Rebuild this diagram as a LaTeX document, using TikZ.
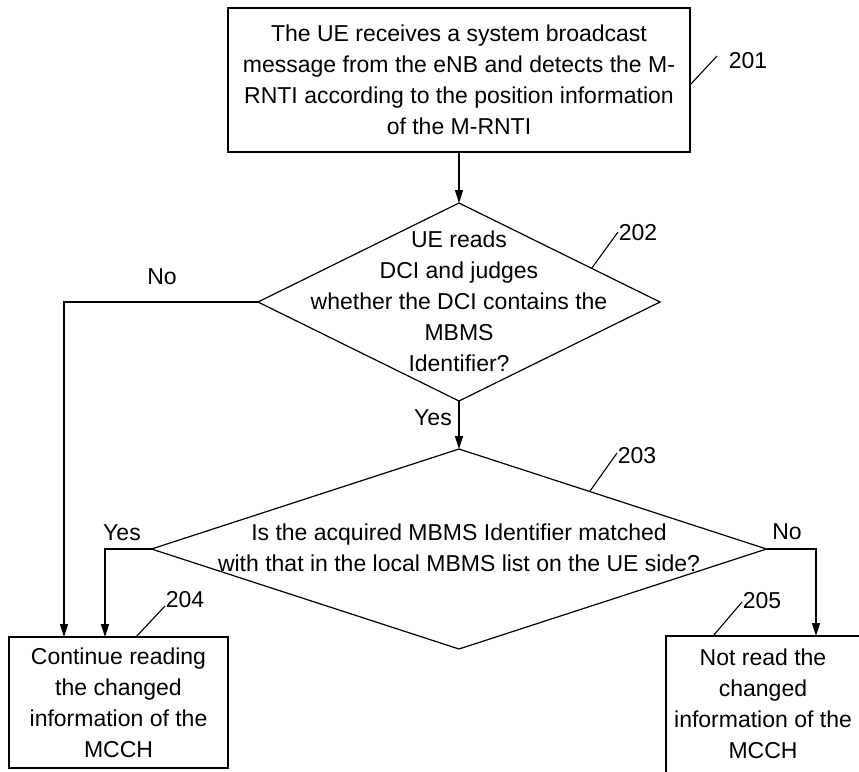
\documentclass[tikz,border=0pt]{standalone}
\usepackage{fontspec}
\setmainfont{Liberation Sans}
\usetikzlibrary{arrows.meta,shapes.geometric,calc}
\begin{document}
\begin{tikzpicture}[x=1pt,y=-1pt,
  every node/.style={font=\fontsize{23}{31}\selectfont},
  box/.style={draw, line width=1.2pt, inner sep=0pt, outer sep=0pt, align=center},
  dia/.style={draw, diamond, line width=1.2pt, inner sep=0pt, outer sep=0pt},
  txt/.style={align=center, inner sep=0pt},
  lbl/.style={inner sep=0pt},
  flow/.style={line width=1.2pt, -{Triangle[length=13pt,width=8pt]}},
  lead/.style={line width=1.1pt}]
\useasboundingbox (0,0) rectangle (859,771);
\clip (0,0) rectangle (859,771);

% boxes
\node[box, minimum width=462pt, minimum height=144pt] (b201) at (459,80)
  {The UE receives a system broadcast\\message from the eNB and detects the M-\\RNTI according to the position information\\of the M-RNTI};
\node[box, minimum width=219pt, minimum height=131pt] (b204) at (118.5,702.5)
  {Continue reading\\the changed\\information of the\\MCCH};
\node[box, minimum width=210pt, minimum height=150pt] (b205) at (771,711) {};
\node[txt] (t205) at (763,704) {Not read the\\changed\\information of the\\MCCH};

% diamonds
\node[dia, minimum width=402pt, minimum height=198pt] (d202) at (459,302) {};
\node[txt] (t202) at (459,301) {UE reads\\DCI and judges\\whether the DCI contains the\\MBMS\\Identifier?};
\node[dia, minimum width=615pt, minimum height=200pt] (d203) at (459,549) {};
\node[txt] (t203) at (459,548) {Is the acquired MBMS Identifier matched\\with that in the local MBMS list on the UE side?};

% connectors
\draw[flow] (b201.south) -- (d202.north);
\draw[flow] (d202.south) -- (d203.north);
\draw[flow] (d202.west) -| ([xshift=55pt]b204.north west);
\draw[flow] (d203.west) -| ([xshift=96pt]b204.north west);
\draw[flow] (d203.east) -| ([xshift=150pt]b205.north west);

% branch labels
\node[lbl] (no1) at (162,277) {No};
\node[lbl] (yes1) at (433,418) {Yes};
\node[lbl] (yes2) at (122,533) {Yes};
\node[lbl] (no2) at (787,532) {No};

% reference numerals
\node[lbl] (n201) at (748,61) {201};
\node[lbl] (n202) at (638,233) {202};
\node[lbl] (n203) at (637,456) {203};
\node[lbl] (n204) at (185,600) {204};
\node[lbl] (n205) at (762,601) {205};

\coordinate (l201a) at ([yshift=-5pt]b201.east);
\coordinate (l201b) at (717,56);
\coordinate (l202a) at ($(d202.north)!0.66!(d202.east)$);
\coordinate (l202b) at (618,232);
\coordinate (l203a) at ($(d203.north)!0.425!(d203.east)$);
\coordinate (l203b) at (617,453);
\coordinate (l204a) at ([xshift=127pt]b204.north west);
\coordinate (l204b) at (165,606);
\coordinate (l205a) at ([xshift=47pt]b205.north west);
\coordinate (l205b) at (742,602);
\draw[lead] (l201a) -- (l201b);
\draw[lead] (l202a) -- (l202b);
\draw[lead] (l203a) -- (l203b);
\draw[lead] (l204a) -- (l204b);
\draw[lead] (l205a) -- (l205b);
\end{tikzpicture}
\end{document}
